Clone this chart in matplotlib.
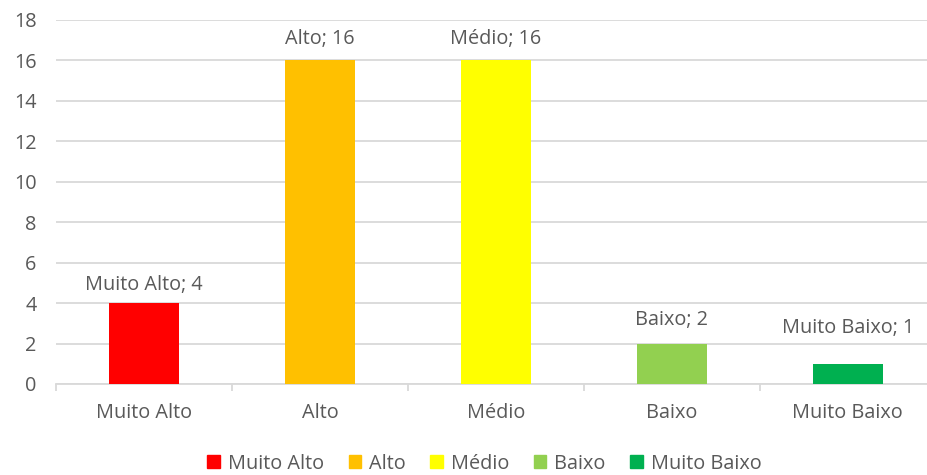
import matplotlib as mpl
import matplotlib.pyplot as plt
import numpy as np
from matplotlib.ticker import FixedLocator, NullFormatter

mpl.rcParams["font.family"] = ["Open Sans", "DejaVu Sans"]

categories = ["Muito Alto", "Alto", "Médio", "Baixo", "Muito Baixo"]
values = [4, 16, 16, 2, 1]
colors = ["#FF0000", "#FFC000", "#FFFF00", "#92D050", "#00B050"]
label_offsets = [13, 15, 15, 17, 26]  # points above bar top
y_ticks = [0, 2, 4, 6, 8, 10, 12, 14, 16, 18]

TEXT = "#595959"
GRID = "#D9D9D9"
FS = 14.3

fig = plt.figure(figsize=(9.28, 4.75), dpi=100)
# plot area runs slightly past the right edge of the image, as in the reference
ax = fig.add_axes([0.0603, 0.1916, 0.948, 0.767])

x = np.arange(len(categories))
ax.bar(x, values, width=0.40, color=colors, zorder=3)

for xi, v, cat, off in zip(x, values, categories, label_offsets):
    ax.annotate(f"{cat}; {v}", (xi, v), xytext=(0, off), textcoords="offset points",
                ha="center", va="center", fontsize=FS, color=TEXT)

ax.set_xlim(-0.5, len(categories) - 0.5)
ax.set_ylim(0, 18)
ax.set_yticks(y_ticks)
ax.yaxis.grid(True, color=GRID, lw=1.3, zorder=0)
ax.set_axisbelow(True)

ax.set_xticks(x)
ax.set_xticklabels(categories)
ax.xaxis.set_minor_locator(FixedLocator(np.arange(-0.5, len(categories), 1.0)))
ax.xaxis.set_minor_formatter(NullFormatter())
ax.tick_params(axis="x", which="major", length=0, pad=14, labelsize=FS, labelcolor=TEXT)
ax.tick_params(axis="x", which="minor", length=5, color=GRID, width=1.3, direction="out")
ax.tick_params(axis="y", length=0, pad=14, labelsize=FS, labelcolor=TEXT)

for s in ["top", "right", "left"]:
    ax.spines[s].set_visible(False)
ax.spines["bottom"].set_color(GRID)
ax.spines["bottom"].set_linewidth(1.3)

handles = [mpl.patches.Patch(color=c) for c in colors]
fig.legend(handles, categories, loc="center", bbox_to_anchor=(0.522, 0.024), ncol=5,
           frameon=False, fontsize=FS, labelcolor=TEXT, handlelength=0.62, handleheight=0.62,
           handletextpad=0.4, columnspacing=1.25)

fig.savefig("out.png", dpi=100)
